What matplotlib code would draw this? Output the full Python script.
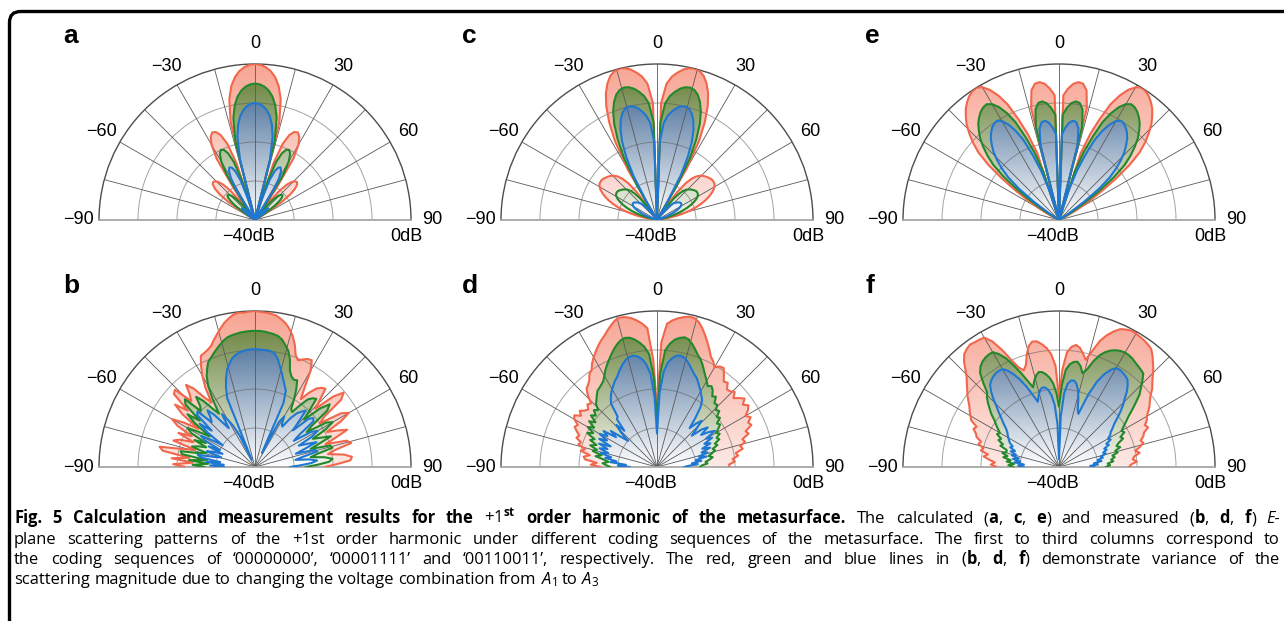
"""
Рис. 5: диаграммы рассеяния +1-й гармоники метаповерхности.

Верхний ряд (a, c, e) -- расчёт, нижний ряд (b, d, f) -- измерения.
Красная, зелёная и синяя кривые соответствуют комбинациям напряжений A1..A3.
"""

import numpy as np
import matplotlib.pyplot as plt
from matplotlib.colors import LinearSegmentedColormap
from matplotlib.image import AxesImage
from matplotlib.patches import FancyBboxPatch
from matplotlib.transforms import IdentityTransform

plt.rcParams["font.family"] = ["Liberation Sans", "DejaVu Sans"]
plt.rcParams["mathtext.fontset"] = "custom"
plt.rcParams["mathtext.rm"] = "Open Sans"
plt.rcParams["mathtext.it"] = "Open Sans:italic"
plt.rcParams["mathtext.bf"] = "Open Sans:bold"

W, H = 1284, 621

#углы (градусы) и разметка осей

ANGLES = np.arange(-90, 91, 2)
TICK_DEG = [-90, -60, -30, 0, 30, 60, 90]
TICK_LABELS = ["\u221290", "\u221260", "\u221230", "0", "30", "60", "90"]
MINOR_DEG = [-75, -45, -15, 15, 45, 75]
R_GRID = [-30, -20, -10]
R_MIN, R_MAX = -40, 0

#расчёт, '00000000' (дБ, от -90 до 90 через 2 градуса)

a_red = [
    -40, -40, -40, -40, -40, -40, -40, -40, -40, -40,
    -40, -40, -40, -40, -40, -40, -37.6, -31.8, -28.8, -27.0,
    -25.9, -25.5, -25.7, -26.4, -27.8, -30.1, -34.2, -40, -30.6, -21.4,
    -17.7, -15.8, -15.0, -15.3, -16.5, -19.2, -24.8, -40, -14.2, -8.3,
    -5.1, -3.0, -1.6, -0.7, -0.2, 0, -0.2, -0.7, -1.6, -3.0,
    -5.1, -8.3, -14.2, -40, -24.8, -19.2, -16.5, -15.3, -15.0, -15.8,
    -17.7, -21.4, -30.6, -40, -34.2, -30.1, -27.8, -26.4, -25.7, -25.5,
    -25.9, -27.0, -28.8, -31.8, -37.6, -40, -40, -40, -40, -40,
    -40, -40, -40, -40, -40, -40, -40, -40, -40, -40,
    -40,
]
a_green = [
    -40, -40, -40, -40, -40, -40, -40, -40, -40, -40,
    -40, -40, -40, -40, -40, -40, -40, -36.8, -33.8, -32.0,
    -30.9, -30.5, -30.7, -31.4, -32.8, -35.1, -39.2, -40, -35.6, -26.4,
    -22.7, -20.8, -20.0, -20.3, -21.5, -24.2, -29.8, -40, -19.2, -13.3,
    -10.1, -8.0, -6.6, -5.7, -5.2, -5.0, -5.2, -5.7, -6.6, -8.0,
    -10.1, -13.3, -19.2, -40, -29.8, -24.2, -21.5, -20.3, -20.0, -20.8,
    -22.7, -26.4, -35.6, -40, -39.2, -35.1, -32.8, -31.4, -30.7, -30.5,
    -30.9, -32.0, -33.8, -36.8, -40, -40, -40, -40, -40, -40,
    -40, -40, -40, -40, -40, -40, -40, -40, -40, -40,
    -40,
]
a_blue = [
    -40, -40, -40, -40, -40, -40, -40, -40, -40, -40,
    -40, -40, -40, -40, -40, -40, -40, -40, -38.8, -37.0,
    -35.9, -35.5, -35.7, -36.4, -37.8, -40, -40, -40, -40, -31.4,
    -27.7, -25.8, -25.0, -25.3, -26.5, -29.2, -34.8, -40, -24.2, -18.3,
    -15.1, -13.0, -11.6, -10.7, -10.2, -10.0, -10.2, -10.7, -11.6, -13.0,
    -15.1, -18.3, -24.2, -40, -34.8, -29.2, -26.5, -25.3, -25.0, -25.8,
    -27.7, -31.4, -40, -40, -40, -40, -37.8, -36.4, -35.7, -35.5,
    -35.9, -37.0, -38.8, -40, -40, -40, -40, -40, -40, -40,
    -40, -40, -40, -40, -40, -40, -40, -40, -40, -40,
    -40,
]

#расчёт, '00001111'

c_red = [
    -40, -40, -40, -40, -40, -37.5, -35, -33, -31, -29.5,
    -28, -26.7, -25.5, -24.5, -23.6, -23, -22.6, -22.5, -22.5, -22.7,
    -23, -23.3, -23.7, -24.2, -25, -26.2, -28, -31, -36, -40,
    -25, -17, -12, -8, -5, -2.8, -1.2, -0.3, 0, -0.2,
    -0.8, -1.8, -3, -5, -10, -40, -10, -5, -3, -1.8,
    -0.8, -0.2, 0, -0.3, -1.2, -2.8, -5, -8, -12, -17,
    -25, -40, -36, -31, -28, -26.2, -25, -24.2, -23.7, -23.3,
    -23, -22.7, -22.5, -22.5, -22.6, -23, -23.6, -24.5, -25.5, -26.7,
    -28, -29.5, -31, -33, -35, -37.5, -40, -40, -40, -40,
    -40,
]
c_green = [
    -40, -40, -40, -40, -40, -40, -40, -38, -36, -34.5,
    -33, -31.7, -30.5, -29.5, -28.6, -28, -27.6, -27.5, -27.5, -27.7,
    -28, -28.3, -28.7, -29.2, -30, -31.2, -33, -36, -40, -40,
    -30, -22, -17, -13, -10, -7.8, -6.2, -5.3, -5, -5.2,
    -5.8, -6.8, -8, -10, -15, -40, -15, -10, -8, -6.8,
    -5.8, -5.2, -5, -5.3, -6.2, -7.8, -10, -13, -17, -22,
    -30, -40, -40, -36, -33, -31.2, -30, -29.2, -28.7, -28.3,
    -28, -27.7, -27.5, -27.5, -27.6, -28, -28.6, -29.5, -30.5, -31.7,
    -33, -34.5, -36, -38, -40, -40, -40, -40, -40, -40,
    -40,
]
c_blue = [
    -40, -40, -40, -40, -40, -40, -40, -40, -40, -39.5,
    -38, -36.7, -35.5, -34.5, -33.6, -33, -32.6, -32.5, -32.5, -32.7,
    -33, -33.3, -33.7, -34.2, -35, -36.2, -38, -40, -40, -40,
    -35, -27, -22, -18, -15, -12.8, -11.2, -10.3, -10, -10.2,
    -10.8, -11.8, -13, -15, -20, -40, -20, -15, -13, -11.8,
    -10.8, -10.2, -10, -10.3, -11.2, -12.8, -15, -18, -22, -27,
    -35, -40, -40, -40, -38, -36.2, -35, -34.2, -33.7, -33.3,
    -33, -32.7, -32.5, -32.5, -32.6, -33, -33.6, -34.5, -35.5, -36.7,
    -38, -39.5, -40, -40, -40, -40, -40, -40, -40, -40,
    -40,
]

#расчёт, '00110011'

e_red = [
    -40, -40, -40, -40, -40, -40, -40, -40, -40, -40,
    -40, -40, -40, -40, -37.5, -34.5, -31, -27, -22, -17,
    -13, -10.3, -8, -5.9, -4.3, -2.8, -1.7, -0.8, -0.2, 0,
    -0.7, -2.2, -4.5, -7.5, -12, -16.5, -22, -40, -10.5, -6,
    -4.5, -4.3, -4.9, -6.2, -8, -40, -8, -6.2, -4.9, -4.3,
    -4.5, -6, -10.5, -40, -22, -16.5, -12, -7.5, -4.5, -2.2,
    -0.7, 0, -0.2, -0.8, -1.7, -2.8, -4.3, -5.9, -8, -10.3,
    -13, -17, -22, -27, -31, -34.5, -37.5, -40, -40, -40,
    -40, -40, -40, -40, -40, -40, -40, -40, -40, -40,
    -40,
]
e_green = [
    -40, -40, -40, -40, -40, -40, -40, -40, -40, -40,
    -40, -40, -40, -40, -40, -39.5, -36, -32, -27, -22,
    -18, -15.3, -13, -10.9, -9.3, -7.8, -6.7, -5.8, -5.2, -5,
    -5.7, -7.2, -9.5, -12.5, -17, -21.5, -27, -40, -15.5, -11,
    -9.5, -9.3, -9.9, -11.2, -13, -40, -13, -11.2, -9.9, -9.3,
    -9.5, -11, -15.5, -40, -27, -21.5, -17, -12.5, -9.5, -7.2,
    -5.7, -5, -5.2, -5.8, -6.7, -7.8, -9.3, -10.9, -13, -15.3,
    -18, -22, -27, -32, -36, -39.5, -40, -40, -40, -40,
    -40, -40, -40, -40, -40, -40, -40, -40, -40, -40,
    -40,
]
e_blue = [
    -40, -40, -40, -40, -40, -40, -40, -40, -40, -40,
    -40, -40, -40, -40, -40, -40, -40, -37, -32, -27,
    -23, -20.3, -18, -15.9, -14.3, -12.8, -11.7, -10.8, -10.2, -10,
    -10.7, -12.2, -14.5, -17.5, -22, -26.5, -32, -40, -20.5, -16,
    -14.5, -14.3, -14.9, -16.2, -18, -40, -18, -16.2, -14.9, -14.3,
    -14.5, -16, -20.5, -40, -32, -26.5, -22, -17.5, -14.5, -12.2,
    -10.7, -10, -10.2, -10.8, -11.7, -12.8, -14.3, -15.9, -18, -20.3,
    -23, -27, -32, -37, -40, -40, -40, -40, -40, -40,
    -40, -40, -40, -40, -40, -40, -40, -40, -40, -40,
    -40,
]

#измерения, '00000000'

b_red = [
    -22, -19, -24, -18.5, -23, -16, -15, -21, -24, -18,
    -19.5, -23, -18.5, -22, -17.5, -15.5, -18.5, -22.5, -17, -14,
    -17.5, -12, -11.5, -16.5, -15, -12.5, -14.5, -18, -20, -16,
    -13, -10.5, -8.3, -8, -7.6, -7, -5.8, -4.6, -3.4, -2.2,
    -1.3, -0.5, -0.2, -0.3, -0.1, 0, -0.2, -0.3, -0.5, -0.8,
    -1.5, -2.3, -3.5, -5, -7, -9.5, -10.5, -9.8, -9.2, -9,
    -11.5, -16, -19, -16.5, -14.5, -13.5, -13, -16, -18.5, -13,
    -10.3, -12, -18, -20, -14, -12.2, -15, -19.5, -17, -14.5,
    -18, -21, -15.5, -14.6, -19, -21, -17, -15, -15.5, -19,
    -22,
]
b_green = [
    -27, -24, -28, -23, -27.5, -21, -20.5, -25.5, -27, -23,
    -24.5, -26.5, -23, -26, -21.5, -20, -23, -26, -21, -18,
    -21.5, -16, -15, -20, -19, -16.5, -18.5, -21.5, -23.5, -19.5,
    -16, -13.6, -12, -10.5, -9.8, -9, -8.2, -7.4, -6.6, -6,
    -5.7, -5.5, -5.3, -5.2, -5.1, -5.1, -5.1, -5.2, -5.4, -5.6,
    -5.9, -6.6, -7.8, -9, -11, -13.8, -15, -15.5, -15.3, -17.5,
    -20, -22.5, -23, -20.5, -18, -17, -16.5, -20, -22.5, -17.5,
    -15, -16.5, -22, -24, -18.5, -17, -19.5, -23.5, -21.5, -19,
    -22.5, -25, -20, -19.5, -23.5, -25.5, -22, -20, -21, -24,
    -27,
]
b_blue = [
    -32, -28.5, -32, -27.5, -31, -26, -25, -29.5, -31, -27,
    -28.5, -31, -27, -30, -25.5, -24, -27, -30, -25, -22,
    -25.5, -20, -19.5, -24, -23, -21, -23, -26, -28, -24,
    -26, -28, -31, -38, -21, -18.2, -16, -14, -12.8, -11.6,
    -10.9, -10.4, -10.1, -9.9, -9.8, -9.8, -9.8, -9.9, -9.9, -10.1,
    -10.5, -11.8, -13.5, -15, -16.5, -17.8, -18.9, -22, -36, -27,
    -25, -27, -27.5, -24.5, -22.5, -21.5, -20.5, -24, -26.5, -21.5,
    -20.5, -21, -26, -28, -23, -21.5, -23.5, -27.5, -25.5, -23,
    -26.5, -29, -24, -23.5, -27.5, -29.5, -26, -24, -25.5, -28.5,
    -31,
]

#измерения, '00001111'

d_red = [
    -25.5, -23, -24.5, -21.5, -21, -22.5, -20, -21, -19, -19.5,
    -18, -18.5, -17.5, -16.5, -17, -15.5, -15, -16.5, -15.5, -16.5,
    -17, -16, -16.5, -14.5, -13, -12.5, -11.8, -10.5, -10, -8.6,
    -7.5, -6.5, -5.5, -4.6, -3.8, -2.8, -1.8, -0.9, -0.5, -0.7,
    -1.2, -2, -3, -4.3, -12.5, -25, -8, -3.2, -2.2, -1.5,
    -1, -0.6, -0.6, -1.3, -2.5, -4, -5.5, -7, -8.5, -9.3,
    -10.5, -9.6, -9.4, -10.8, -12.2, -11.8, -13.2, -13, -12.3, -13.6,
    -12.5, -11.5, -12.8, -11.7, -12.5, -13.8, -12.8, -14, -13.5, -15.5,
    -15, -17, -16.5, -18, -17.5, -19.5, -19, -20.5, -20, -21.5,
    -21.4,
]
d_green = [
    -28, -27, -26, -27.5, -26.2, -24, -25.5, -23, -24, -22,
    -23.5, -21.5, -22.5, -20.1, -21.5, -19.5, -21, -19, -20.5, -18.5,
    -19.5, -18.2, -19, -17.5, -16.8, -16, -15.2, -14.9, -14.5, -14,
    -13, -11.8, -10.8, -9.8, -8.8, -7.8, -6.9, -6.2, -5.9, -6.1,
    -6.8, -7.8, -9, -11, -17, -27.5, -16, -10, -8.2, -7,
    -6.4, -6, -6.3, -7.2, -8.3, -9.4, -10.2, -11.3, -12.5, -13.6,
    -14.5, -15.5, -15, -15.7, -17, -16.5, -18, -17.8, -19, -18.5,
    -20, -19.5, -21, -20.5, -21.5, -22.5, -21.8, -23, -22.5, -24,
    -23.5, -25, -24.5, -25.5, -26.5, -25.5, -26.4, -27.5, -27, -28.5,
    -29,
]
d_blue = [
    -33, -30, -32, -28, -29.5, -26.5, -28, -25.1, -27, -24.5,
    -26.5, -24, -27, -23.5, -25.5, -23, -25, -23.5, -27, -25,
    -28, -30, -27, -25, -27.5, -24, -23.6, -20, -18.8, -17.8,
    -17, -16.2, -15.4, -14.8, -13.8, -12.9, -12, -11.3, -10.9, -10.8,
    -11.2, -12, -13.5, -16, -22, -31.4, -21, -15.5, -13, -11.8,
    -11, -10.8, -11.1, -11.8, -12.7, -13.6, -14.4, -15, -15.9, -16.8,
    -17.6, -18.5, -19.3, -21, -24, -27, -25, -23.5, -26, -28,
    -25, -23.5, -26, -24, -22.5, -25.5, -24, -26.5, -25, -27.5,
    -25.5, -28, -26.5, -29, -27, -30, -28.5, -31, -29.5, -32,
    -33,
]

#измерения, '00110011'

f_red = [
    -24, -22.5, -23.5, -22, -20.5, -21.5, -19.5, -20, -18.5, -19,
    -17.5, -17, -16, -16.5, -14.5, -13.8, -13, -12.3, -11.3, -10.2,
    -9.3, -8.2, -7.1, -5.5, -3.6, -2.2, -1.6, -1.2, -1.4, -1.5,
    -1.7, -3.5, -6.5, -10, -12.5, -13.6, -12.5, -10, -8, -7.1,
    -7.3, -8.2, -9.3, -11, -14, -22, -15, -10.5, -9, -8.4,
    -9, -10.3, -11.7, -9, -6, -4, -2.5, -1.3, -0.8, -0.4,
    -0.5, -0.7, -0.9, -1.2, -1.6, -2.7, -4, -5.2, -6.6, -7.8,
    -8.8, -10.2, -11.2, -12, -13, -14, -14.5, -15.5, -15, -16.5,
    -17, -18, -17.5, -18.6, -20, -19, -20.5, -21, -20, -21.5,
    -22,
]
f_green = [
    -28.3, -27, -28.5, -26.5, -27.5, -25.5, -26.5, -25, -26, -25.9,
    -24, -24.5, -23, -23.5, -22, -22.5, -21.5, -20.5, -19.5, -18,
    -16.8, -15.5, -14.3, -13.5, -11, -8.5, -7.3, -6.6, -6.2, -6,
    -6, -7.2, -9, -11.5, -14, -16.5, -18.5, -17, -15.8, -15.1,
    -15.3, -16, -17, -18.5, -21, -24.5, -19, -15, -13.5, -12.8,
    -12.6, -13.5, -15.2, -14, -11.5, -9.5, -8.2, -7.3, -6.7, -6.3,
    -6.1, -6.2, -6.4, -6.8, -7.1, -7.4, -7.7, -9.2, -10.8, -12.2,
    -14.3, -16.2, -18, -19.3, -20.5, -21.5, -21, -22.5, -22, -23.5,
    -24.3, -23.5, -25, -24.5, -26, -25.5, -26.5, -26, -27.5, -26.9,
    -28,
]
f_blue = [
    -31, -29.5, -31, -28.5, -30, -28, -29.5, -27.5, -28.5, -27,
    -28, -26.5, -27, -26, -25.5, -25, -24.5, -24, -23.2, -22,
    -20.8, -19.3, -17.8, -15.8, -14, -12.5, -11.8, -11.3, -11, -10.9,
    -11, -12, -13.6, -15.5, -17.8, -20.3, -22.4, -21, -19.8, -19.2,
    -19.3, -20, -21.5, -24, -29, -38, -27, -21, -18.5, -17.6,
    -17.5, -18.3, -19.8, -22, -24.5, -25.5, -20, -16, -13.5, -11.8,
    -10.7, -10.6, -10.8, -11.1, -11.5, -12.6, -14, -15.8, -17.2, -18.8,
    -20.5, -22, -23, -24, -24.5, -25.5, -25, -26.5, -26, -27.5,
    -27, -28.1, -27.5, -29, -28.5, -30, -29, -31, -30, -32,
    -31,
]

DATA = {
    "a": (a_red, a_green, a_blue),
    "b": (b_red, b_green, b_blue),
    "c": (c_red, c_green, c_blue),
    "d": (d_red, d_green, d_blue),
    "e": (e_red, e_green, e_blue),
    "f": (f_red, f_green, f_blue),
}

#раскладка: центр полукруга (px) и положение буквы панели (px)

RADIUS = 156
LAYOUT = {
    "a": (255, 220, 63, 43),
    "c": (657, 220, 462, 43),
    "e": (1059, 220, 865, 43),
    "b": (255, 467, 63, 293),
    "d": (657, 467, 462, 293),
    "f": (1059, 467, 865, 293),
}

LINE_COLORS = ("#f2664c", "#22892b", "#1f77d2")
FILL_MAPS = (
    LinearSegmentedColormap.from_list("rf", ["#fde9e5", "#f8a594"]),
    LinearSegmentedColormap.from_list("gf", ["#f4f6ee", "#5f7a30"]),
    LinearSegmentedColormap.from_list("bf", ["#ffffff", "#285587"]),
)
GRAD = np.linspace(0, 1, 256).reshape(-1, 1)
GRID_MAJOR = (0.35, 0.35, 0.35, 0.55)
GRID_MINOR = (0.35, 0.35, 0.35, 0.25)
GRID_R = (0.35, 0.35, 0.35, 0.55)

#подпись к рисунку

CAPTION = [
    [("Fig. 5 Calculation and measurement results for the ", "bold"),
     (r"$+1^{\mathbf{st}}$", "normal"),
     (" order harmonic of the metasurface.", "bold"),
     (" The calculated (", "normal"), ("a", "bold"), (", ", "normal"),
     ("c", "bold"), (", ", "normal"), ("e", "bold"),
     (") and measured (", "normal"), ("b", "bold"), (", ", "normal"),
     ("d", "bold"), (", ", "normal"), ("f", "bold"), (") ", "normal"),
     ("E-", "italic")],
    [("plane scattering patterns of the +1st order harmonic under different "
      "coding sequences of the metasurface. The first to third columns "
      "correspond to", "normal")],
    [("the coding sequences of \u201800000000\u2019, \u201800001111\u2019 and "
      "\u201800110011\u2019, respectively. The red, green and blue lines in (",
      "normal"),
     ("b", "bold"), (", ", "normal"), ("d", "bold"), (", ", "normal"),
     ("f", "bold"), (") demonstrate variance of the", "normal")],
    [("scattering magnitude due to changing the voltage combination from ",
      "normal"), ("$A_1$", "normal"), (" to ", "normal"), ("$A_3$", "normal")],
]
CAP_FONT = "Open Sans"
CAP_SIZE = 11.9
CAP_LEFT, CAP_RIGHT = 14, 1280
CAP_BASELINES = [523, 543.5, 564, 584.5]
CAP_SPACE = 4.3
STYLE = {
    "normal": {},
    "bold": {"fontweight": "bold"},
    "italic": {"fontstyle": "italic"},
}


def polar_panel(fig, key):
    """Построить одну полукруглую диаграмму направленности."""
    cx, cy, lx, ly = LAYOUT[key]
    side = 2 * RADIUS
    ax = fig.add_axes(
        [(cx - RADIUS) / W, (H - cy - RADIUS / 2) / H, side / W, side / H],
        projection="polar",
    )
    ax.set_theta_zero_location("N")
    ax.set_theta_direction(-1)

    th = np.deg2rad(ANGLES)
    curves = DATA[key]
    for vals, cmap in zip(curves, FILL_MAPS):
        patch = ax.fill(th, vals, facecolor="none", edgecolor="none")[0]
        im = AxesImage(ax, cmap=cmap, origin="lower", interpolation="bilinear",
                       extent=(0, 1, 0.25, 0.75), transform=ax.transAxes)
        im.set_data(GRAD)
        im.set_clip_path(patch)
        ax.add_image(im)
    for vals, col in zip(curves, LINE_COLORS):
        ax.plot(th, vals, color=col, lw=1.5, zorder=3)

    ax.set_thetamin(-90)
    ax.set_thetamax(90)
    ax.set_rlim(R_MIN, R_MAX)

    ax.set_xticks(np.deg2rad(TICK_DEG), TICK_LABELS)
    ax.set_xticks(np.deg2rad(MINOR_DEG), minor=True)
    ax.set_yticks(R_GRID)
    ax.set_yticklabels([])
    ax.tick_params(axis="x", which="both", length=0, pad=8, labelsize=13)
    ax.tick_params(axis="y", length=0)
    ax.xaxis.grid(True, which="major", color=GRID_MAJOR, lw=0.6)
    ax.xaxis.grid(True, which="minor", color=GRID_MINOR, lw=0.6)
    ax.yaxis.grid(True, color=GRID_R, lw=0.7)
    ax.spines["polar"].set(color="0.3", lw=1.0)
    for side_name in ("start", "end"):
        ax.spines[side_name].set(color="0.65", lw=1.3)

    ax.annotate("0dB", xy=(np.pi / 2, R_MAX), xytext=(-3, -12),
                textcoords="offset points", ha="center", va="center",
                fontsize=13, annotation_clip=False)
    ax.annotate("\u221240dB", xy=(0, R_MIN), xytext=(-5, -12),
                textcoords="offset points", ha="center", va="center",
                fontsize=13, annotation_clip=False)

    fig.text(lx / W, 1 - ly / H, key, fontsize=19, fontweight="bold",
             va="baseline", ha="left")
    return ax


def split_words(runs):
    """Разбить строку из стилизованных кусков на слова."""
    words = [[]]
    for text, style in runs:
        if text.startswith("$"):
            words[-1].append((text, style))
            continue
        for i, part in enumerate(text.split(" ")):
            if i > 0:
                words.append([])
            if part:
                words[-1].append((part, style))
    return [w for w in words if w]


def draw_caption(fig):
    """Нарисовать подпись с выравниванием по ширине."""
    renderer = fig.canvas.get_renderer()
    for line_no, runs in enumerate(CAPTION):
        placed = []
        for word in split_words(runs):
            pieces = []
            for text, style in word:
                t = fig.text(0, 0, text, fontsize=CAP_SIZE, family=CAP_FONT,
                             va="baseline", ha="left", **STYLE[style])
                pieces.append((t, t.get_window_extent(renderer).width))
            placed.append(pieces)
        widths = [sum(pw for _, pw in p) for p in placed]
        if line_no < len(CAPTION) - 1:
            gap = (CAP_RIGHT - CAP_LEFT - sum(widths)) / (len(placed) - 1)
        else:
            gap = CAP_SPACE
        x = CAP_LEFT
        y = 1 - CAP_BASELINES[line_no] / H
        for pieces, w in zip(placed, widths):
            xx = x
            for t, pw in pieces:
                t.set_position((xx / W, y))
                xx += pw
            x += w + gap


def main():
    fig = plt.figure(figsize=(W / 100, H / 100), dpi=100)
    for key in LAYOUT:
        polar_panel(fig, key)

    frame = FancyBboxPatch((9.5, -40), 1400, 609.5 + 40,
                           boxstyle="round,pad=0,rounding_size=11",
                           transform=IdentityTransform(), fill=False,
                           ec="black", lw=2.4)
    fig.add_artist(frame)

    draw_caption(fig)
    fig.savefig("out.png", dpi=100)


if __name__ == "__main__":
    main()
